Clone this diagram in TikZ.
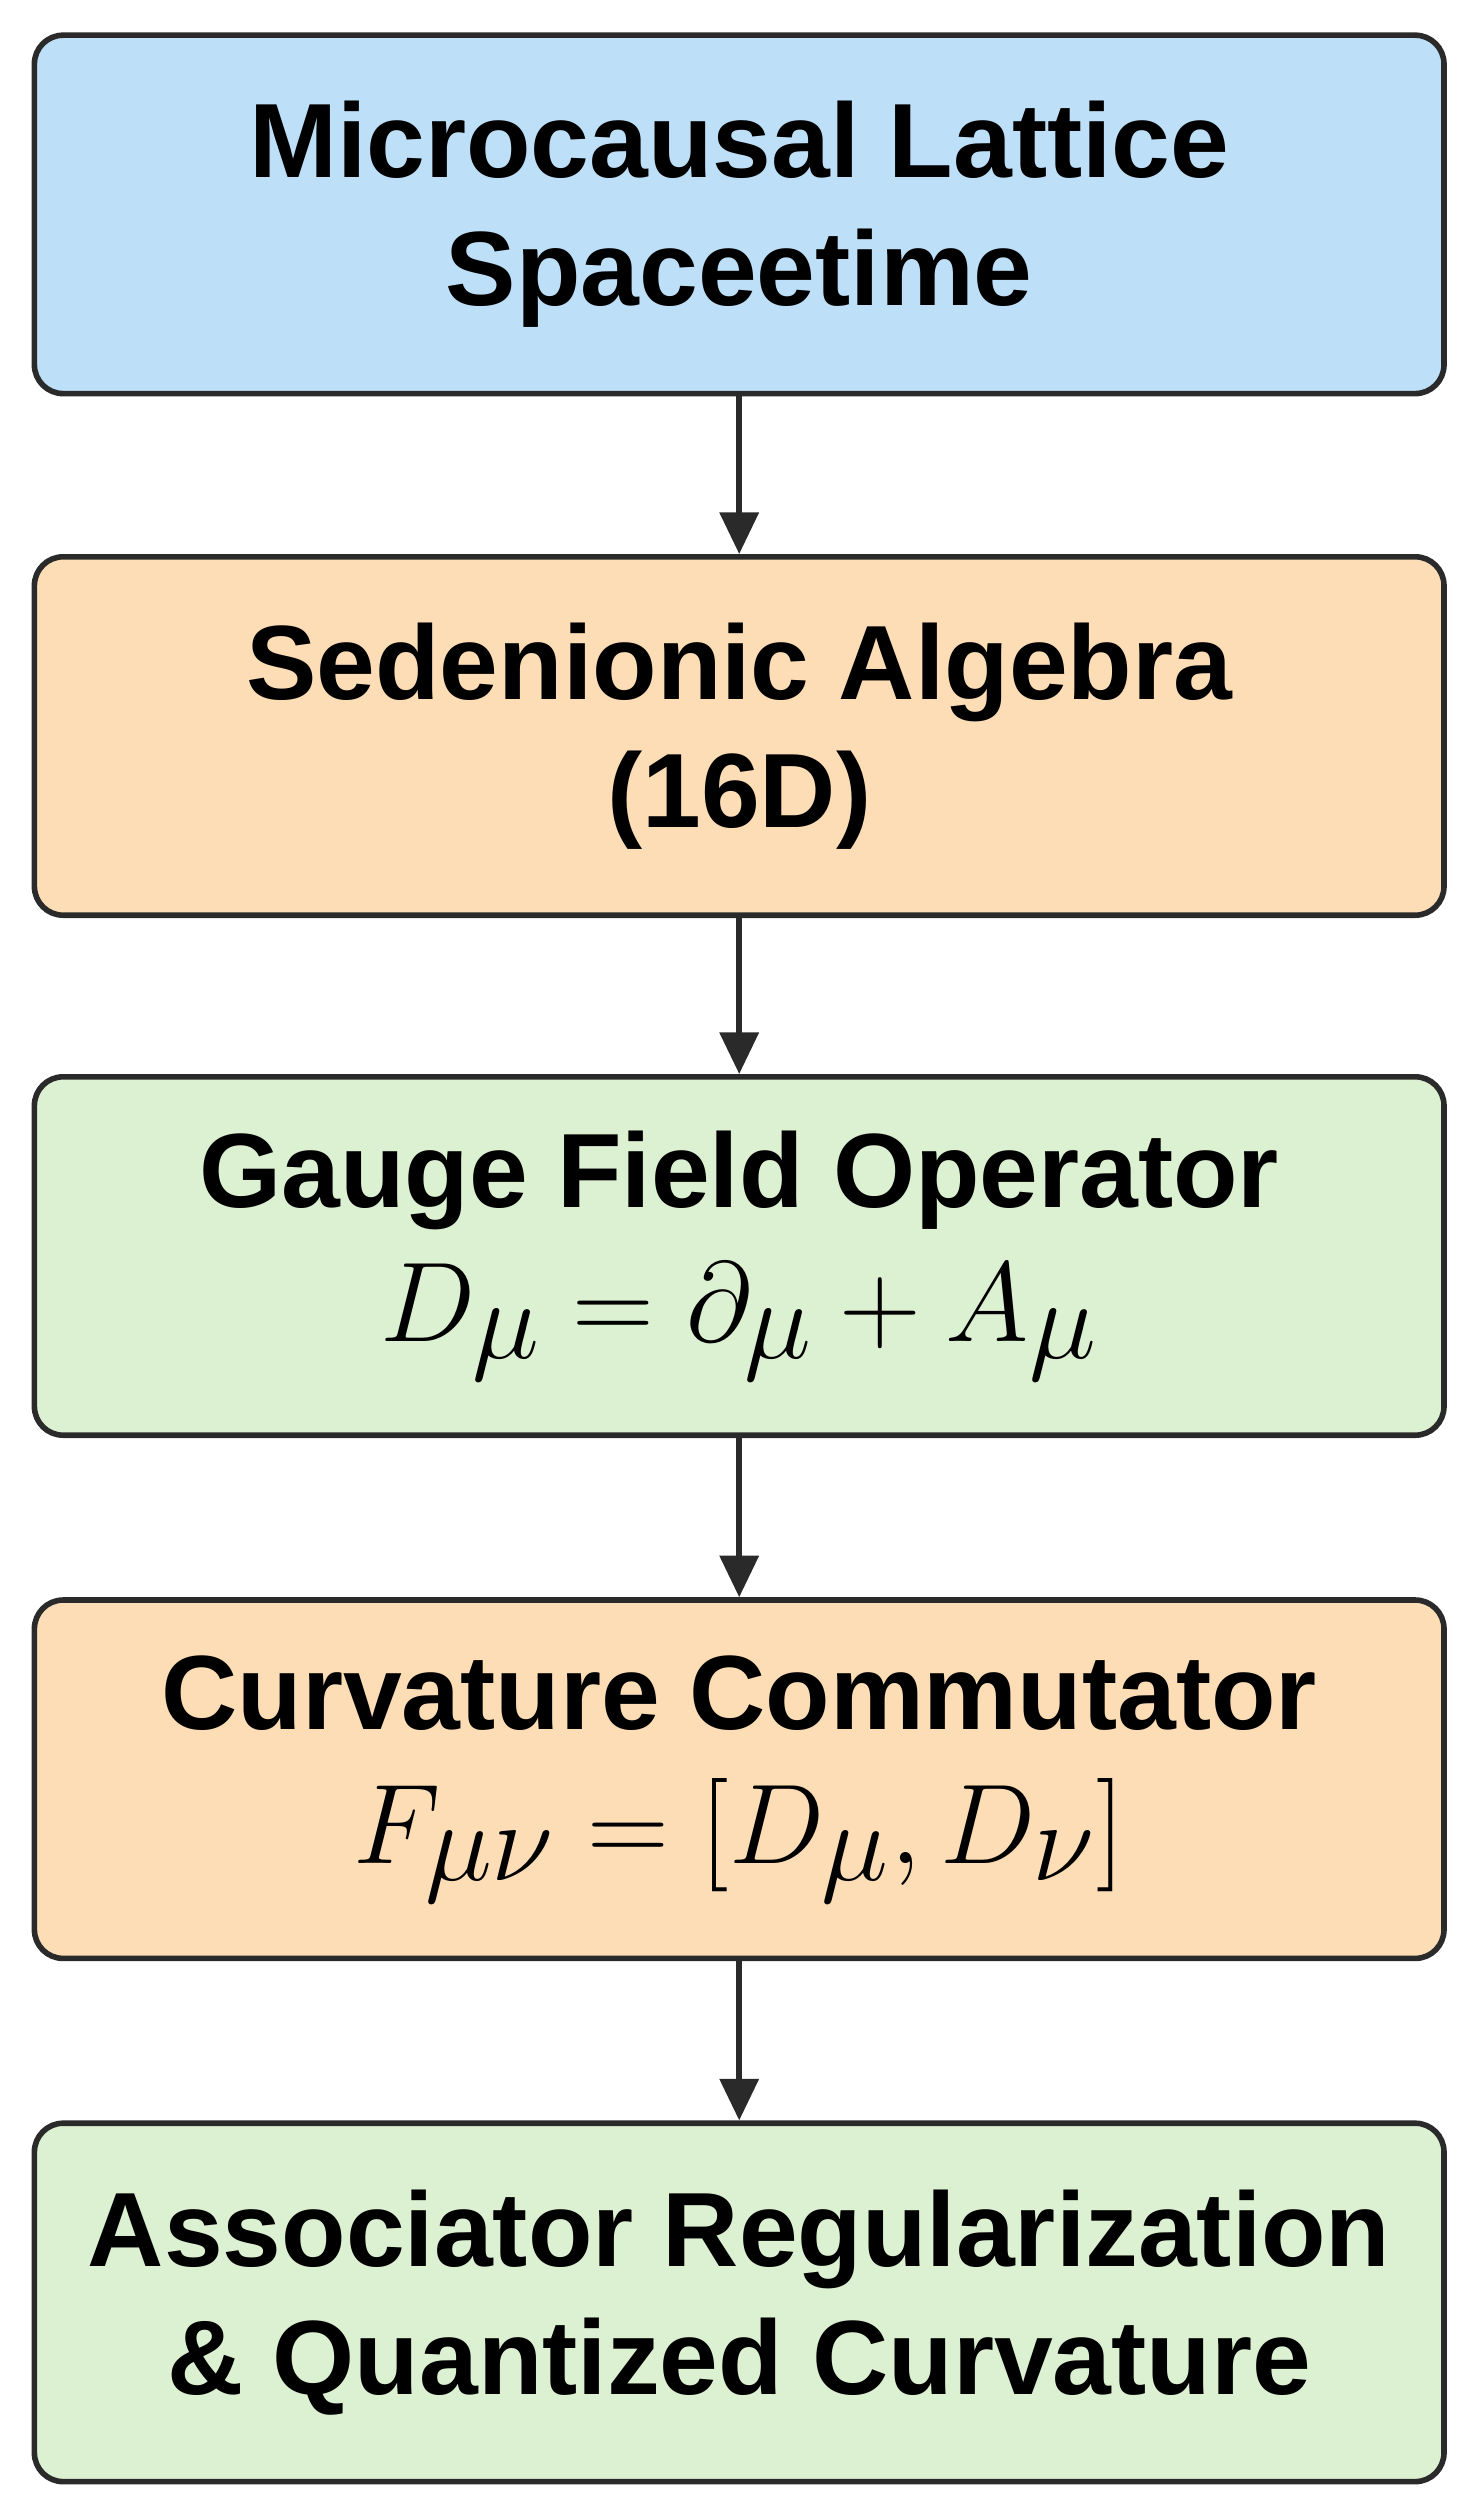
\documentclass[tikz,border=0pt]{standalone}
\usepackage{fontspec}
\setmainfont{Liberation Sans}
\usepackage{graphicx}
\usetikzlibrary{arrows.meta}
\definecolor{bblue}{HTML}{BDDFF7}
\definecolor{borange}{HTML}{FCDDB6}
\definecolor{bgreen}{HTML}{DCF0D2}
\definecolor{bline}{HTML}{2A2A2A}
\tikzset{
 box/.style={draw=bline,line width=3.5pt,rounded corners=18pt,minimum width=881pt,minimum height=224pt,align=center,font=\fontsize{66}{80}\selectfont\bfseries,inner sep=0pt},
 arr/.style={-{Triangle[length=26pt,width=24pt]},line width=3.5pt,draw=bline}
}
\begin{document}
\begin{tikzpicture}[x=1pt,y=-1pt]
\useasboundingbox (0,0) rectangle (921,1570);
\node[box,fill=bblue] (a) at (462,134) {Microcausal Lattice\\Spaceetime};
\node[box,fill=borange] (b) at (462,460) {Sedenionic Algebra\\(16D)};
\node[box,fill=bgreen] (c) at (462,785) {Gauge Field Operator\\[4pt]\scalebox{2.85}{$D_\mu=\partial_\mu+A_\mu$}};
\node[box,fill=borange] (d) at (462,1112) {Curvature Commutator\\[4pt]\scalebox{2.85}{$F_{\mu\nu}=[D_\mu,D_\nu]$}};
\node[box,fill=bgreen] (e) at (462,1439) {Associator Regularization\\\& Quantized Curvature};
\draw[arr] (a) -- (b);
\draw[arr] (b) -- (c);
\draw[arr] (c) -- (d);
\draw[arr] (d) -- (e);
\end{tikzpicture}
\end{document}
